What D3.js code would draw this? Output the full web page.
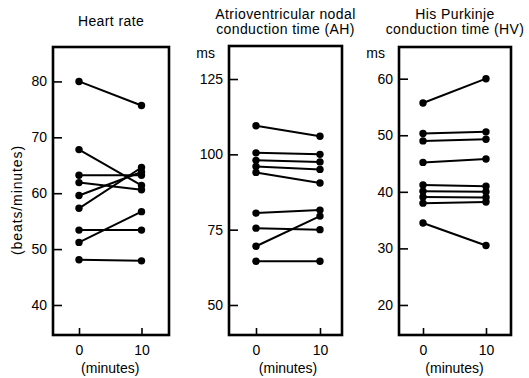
<!doctype html>
<html lang="en">
<head>
  <meta charset="utf-8">
  <title>Heart rate and conduction times</title>
  <script type="text/javascript" src="https://cdnjs.cloudflare.com/ajax/libs/d3/7.8.5/d3.min.js"></script>
  <style>
    body { margin: 0; background: #fff; }
    text { font-family: "Liberation Sans", Arial, sans-serif; fill: #000; }
  </style>
</head>
<body>
  <svg width="529" height="378" id="svg"></svg>

<script type="text/javascript">

	// values, one entry per subject
	var times = [0, 10];

	var heartRate0  = [80, 67.8, 63.2, 61.9, 59.6, 57.3, 53.4, 51.2, 48.1];
	var heartRate10 = [75.7, 61.4, 63.2, 60.6, 63.8, 64.6, 53.4, 56.7, 47.9];

	var ah0  = [109.5, 100.5, 98, 96, 94, 80.5, 75.5, 69.5, 64.5];
	var ah10 = [106, 100, 97.5, 95, 90.5, 81.5, 75, 79.5, 64.5];

	var hv0  = [55.7, 50.3, 49, 45.2, 41.2, 40.1, 39.1, 38, 34.5];
	var hv10 = [60, 50.6, 49.3, 45.8, 41, 40, 39, 38.2, 30.5];

	var heartRateTicks = [40, 50, 60, 70, 80];
	var ahTicks = [50, 75, 100, 125];
	var hvTicks = [20, 30, 40, 50, 60];

	var titles = [
		['Heart rate'],
		['Atrioventricular nodal', 'conduction time (AH)'],
		['His Purkinje', 'conduction time (HV)']
	];

	var panels = [
		{ before: heartRate0, after: heartRate10, ticks: heartRateTicks, title: titles[0], unit: null,
		  left: 53, right: 169, top: 47, bottom: 335, xDomain: [-4.16, 14.4], yDomain: [34.63, 86.16], titleY: 26 },
		{ before: ah0, after: ah10, ticks: ahTicks, title: titles[1], unit: 'ms',
		  left: 229, right: 342, top: 46, bottom: 335, xDomain: [-4.22, 13.44], yDomain: [40.04, 135.96], titleY: 18.5 },
		{ before: hv0, after: hv10, ticks: hvTicks, title: titles[2], unit: 'ms',
		  left: 399, right: 511, top: 47, bottom: 335, xDomain: [-3.81, 13.97], yDomain: [14.69, 65.6], titleY: 18.5 }
	];

	var svg = d3.select('#svg');

	svg.append('rect')
		.attr('width', 529)
		.attr('height', 378)
		.attr('fill', '#fff');

	panels.forEach(function(p) {

		var x = d3.scaleLinear().domain(p.xDomain).range([p.left, p.right]);
		var y = d3.scaleLinear().domain(p.yDomain).range([p.bottom, p.top]);

		var g = svg.append('g');

		// y axis, ticks pointing into the box
		var yAxis = g.append('g')
			.attr('transform', 'translate(' + p.left + ',0)')
			.call(d3.axisLeft(y).tickValues(p.ticks).tickSize(-9).tickPadding(6));
		yAxis.select('.domain').remove();
		yAxis.selectAll('line').attr('stroke', '#000').attr('stroke-width', 1.6);
		yAxis.selectAll('text').attr('font-size', 14).attr('fill', '#000');

		var xAxis = g.append('g')
			.attr('transform', 'translate(0,' + p.bottom + ')')
			.call(d3.axisBottom(x).tickValues(times).tickSize(-7).tickPadding(10));
		xAxis.select('.domain').remove();
		xAxis.selectAll('line').attr('stroke', '#000').attr('stroke-width', 1.6);
		xAxis.selectAll('text').attr('font-size', 14).attr('fill', '#000');

		// frame
		g.append('rect')
			.attr('x', p.left)
			.attr('y', p.top)
			.attr('width', p.right - p.left)
			.attr('height', p.bottom - p.top)
			.attr('fill', 'none')
			.attr('stroke', '#000')
			.attr('stroke-width', 2.6);

		g.append('text')
			.attr('x', (x(0) + x(10)) / 2)
			.attr('y', 373)
			.attr('text-anchor', 'middle')
			.attr('font-size', 14)
			.text('(minutes)');

		g.selectAll('.title')
			.data(p.title)
			.enter()
			.append('text')
			.attr('class', 'title')
			.attr('x', (p.left + p.right) / 2)
			.attr('y', function(d, i) { return p.titleY + i * 15; })
			.attr('text-anchor', 'middle')
			.attr('font-size', 14)
			.attr('letter-spacing', 0.4)
			.text(function(d) { return d; });

		if (p.unit) {
			g.append('text')
				.attr('x', p.left - 14)
				.attr('y', 58)
				.attr('text-anchor', 'end')
				.attr('font-size', 14)
				.text(p.unit);
		}

		var pairs = p.before.map(function(v, i) { return [v, p.after[i]]; });

		g.selectAll('.pair')
			.data(pairs)
			.enter()
			.append('line')
			.attr('x1', x(times[0]))
			.attr('x2', x(times[1]))
			.attr('y1', function(d) { return y(d[0]); })
			.attr('y2', function(d) { return y(d[1]); })
			.attr('stroke', '#000')
			.attr('stroke-width', 2);

		var dots = [];
		pairs.forEach(function(d) {
			dots.push([times[0], d[0]]);
			dots.push([times[1], d[1]]);
		});

		g.selectAll('circle')
			.data(dots)
			.enter()
			.append('circle')
			.attr('cx', function(d) { return x(d[0]); })
			.attr('cy', function(d) { return y(d[1]); })
			.attr('r', 3.7)
			.attr('fill', '#000');
	});

	svg.append('text')
		.attr('transform', 'translate(22,' + 200 + ') rotate(-90)')
		.attr('text-anchor', 'middle')
		.attr('font-size', 14)
		.attr('letter-spacing', 0.9)
		.text('(beats/minutes)');

</script>
</body>
</html>
